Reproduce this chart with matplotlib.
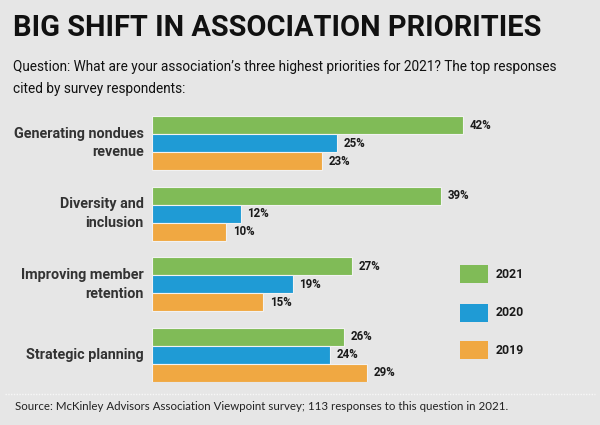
import matplotlib
matplotlib.use("Agg")
import matplotlib.pyplot as plt
from matplotlib.patches import Rectangle
from matplotlib.lines import Line2D

categories = ["Generating nondues\nrevenue", "Diversity and\ninclusion",
              "Improving member\nretention", "Strategic planning"]
years = ["2021", "2020", "2019"]
values_2021 = [42, 39, 27, 26]
values_2020 = [25, 12, 19, 24]
values_2019 = [23, 10, 15, 29]
series = [values_2021, values_2020, values_2019]
colors = ["#80bb57", "#1f9bd5", "#f0a842"]

title = "BIG SHIFT IN ASSOCIATION PRIORITIES"
subtitle_lines = ["Question: What are your association\u2019s three highest priorities for 2021? The top responses",
                  "cited by survey respondents:"]
source = "Source: McKinley Advisors Association Viewpoint survey; 113 responses to this question in 2021."

BG = "#e6e6e6"
BOLDF = ["Roboto", "Liberation Sans", "DejaVu Sans"]
REGF = ["Roboto", "Liberation Sans", "DejaVu Sans"]

fig = plt.figure(figsize=(6, 4.25), dpi=100, facecolor=BG)
renderer = fig.canvas.get_renderer()


def fit(t, width_px):
    w = t.get_window_extent(renderer).width
    t.set_fontsize(t.get_fontsize() * width_px / w)


ax = fig.add_axes([152/600, 1-382/425, 420/600, 266/425])
ax.set_facecolor(BG)

bh = 0.255
for i, (vals, c) in enumerate(zip(series, colors)):
    ys = [g + (i - 1) * bh for g in range(len(categories))]
    ax.barh(ys, vals, height=bh, color=c, edgecolor="#f2f2f2", linewidth=0.8)
    for y, v in zip(ys, vals):
        ax.text(v + 0.9, y, f"{v}%", va="center", ha="left", fontsize=8.3,
                fontweight="bold", color="#1a1a1a", family=BOLDF)

ax.set_xlim(0, 420/7.4)
ax.set_ylim(3 + 1.5*bh, -1.5*bh)
ax.set_yticks(range(len(categories)))
ax.set_yticks([])
for s in ax.spines.values():
    s.set_visible(False)
ax.set_xticks([])

# category labels, right aligned at the bars' left edge
cat_texts = []
for g, lab in enumerate(categories):
    t = ax.text(-1.1, g, lab, ha="right", va="center", fontsize=11,
                fontweight="bold", color="#333333", family=BOLDF,
                linespacing=1.45, multialignment="right")
    cat_texts.append(t)
fit(cat_texts[3], 118)
for t in cat_texts[:3]:
    t.set_fontsize(cat_texts[3].get_fontsize())

# legend
leg_y = [274, 312.5, 350]
for lbl, c, yc in zip(years, colors, leg_y):
    fig.patches.append(Rectangle((460/600, 1-(yc+9)/425), 28/600, 18/425,
                                 transform=fig.transFigure, facecolor=c,
                                 edgecolor="none"))
    fig.text(496/600, 1-yc/425, lbl, ha="left", va="center", fontsize=8.8,
             fontweight="bold", color="#1a1a1a", family=BOLDF)

tt = fig.text(13/600, 1-28/425, title, ha="left", va="center", fontsize=24,
              fontweight="bold", color="#111111", family=BOLDF)
fit(tt, 526)
s1 = fig.text(13/600, 1-67/425, subtitle_lines[0], ha="left", va="center",
              fontsize=10.5, color="#111111", family=REGF)
fit(s1, 544)
fig.text(13/600, 1-89/425, subtitle_lines[1], ha="left", va="center",
         fontsize=s1.get_fontsize(), color="#111111", family=REGF)

fig.lines.append(Line2D([5/600, 595/600], [1-394/425, 1-394/425],
                        transform=fig.transFigure, color="#f7f7f7",
                        linewidth=1, linestyle=(0, (1, 1))))
st = fig.text(15/600, 1-406/425, source, ha="left", va="center", fontsize=8,
              color="#222222", family=["Lato", "DejaVu Sans"])
fit(st, 497)

fig.savefig("out.png", dpi=100, facecolor=BG)
